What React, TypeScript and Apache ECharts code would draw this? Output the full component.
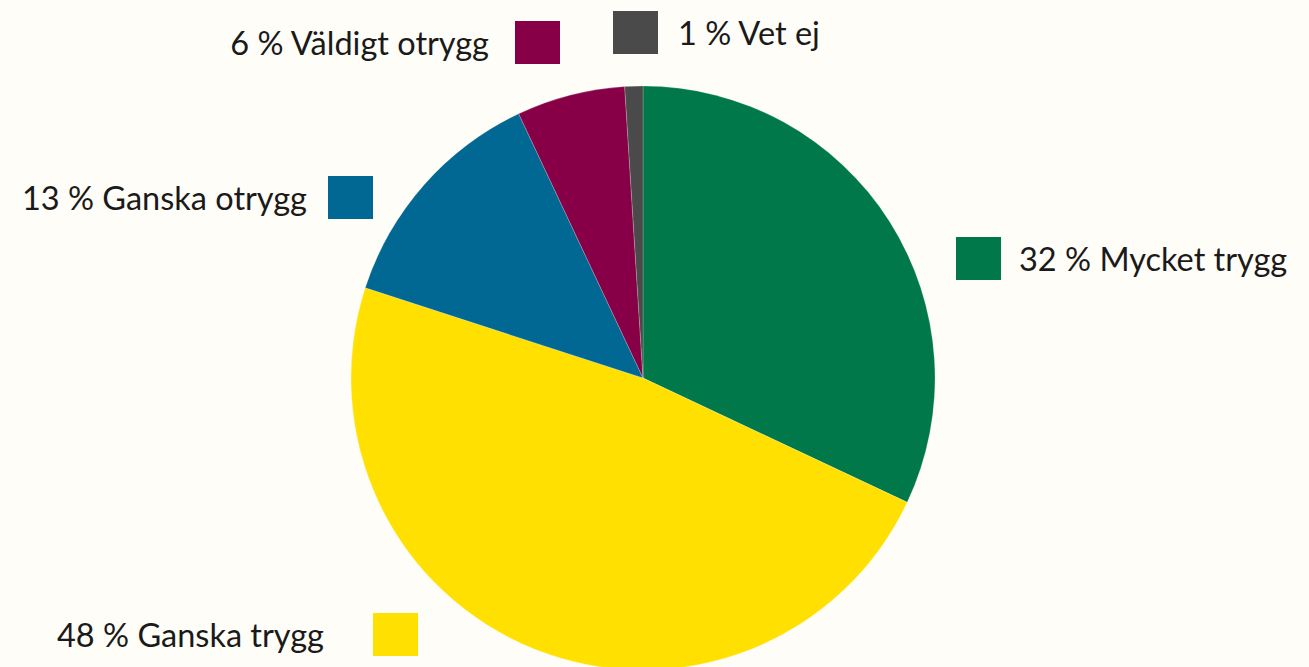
import React, { useEffect, useRef } from "react";
import * as echarts from "echarts";

const categories = ["Mycket trygg", "Ganska trygg", "Ganska otrygg", "Väldigt otrygg", "Vet ej"];
const values = [32, 48, 13, 6, 1];
const colors = ["#00784A", "#FFE000", "#006892", "#870047", "#4A4A4A"];

// label placement: square box [x, y], text anchor x, text side
const boxPos: [number, number, number, "left" | "right"][] = [
  [956, 237, 1019, "right"],
  [373, 613, 324, "left"],
  [328, 176, 307, "left"],
  [515, 21, 489, "left"],
  [613, 11, 678, "right"],
];

const FONT = "Lato";
const FS = 32.5;

export default function App() {
  const ref = useRef<HTMLDivElement>(null);
  useEffect(() => {
    if (!ref.current) return;
    const chart = echarts.init(ref.current, undefined, { renderer: "svg" });
    const graphics: any[] = [];
    categories.forEach((c, i) => {
      const [bx, by, tx, side] = boxPos[i];
      graphics.push({
        type: "rect",
        shape: { x: bx, y: by, width: 45, height: 43 },
        style: { fill: colors[i] },
      });
      graphics.push({
        type: "text",
        x: tx,
        y: by + 21,
        style: {
          text: `${values[i]} % ${c}`,
          fill: "#1A1A1A",
          font: `${FS}px ${FONT}`,
          align: side === "left" ? "right" : "left",
          verticalAlign: "middle",
        },
      });
    });
    chart.setOption({
      animation: false,
      backgroundColor: "#FFFDF7",
      series: [
        {
          type: "pie",
          center: [643, 378],
          radius: 292,
          startAngle: 90,
          clockwise: true,
          label: { show: false },
          labelLine: { show: false },
          emphasis: { disabled: true },
          itemStyle: { borderColor: "rgba(255,253,247,0.4)", borderWidth: 0.5 },
          data: categories.map((c, i) => ({ name: c, value: values[i], itemStyle: { color: colors[i] } })),
        },
      ],
      graphic: graphics,
    });
    return () => chart.dispose();
  }, []);
  return (
    <div
      ref={ref}
      style={{ position: "fixed", left: 0, top: 0, width: 1309, height: 667 }}
    />
  );
}
